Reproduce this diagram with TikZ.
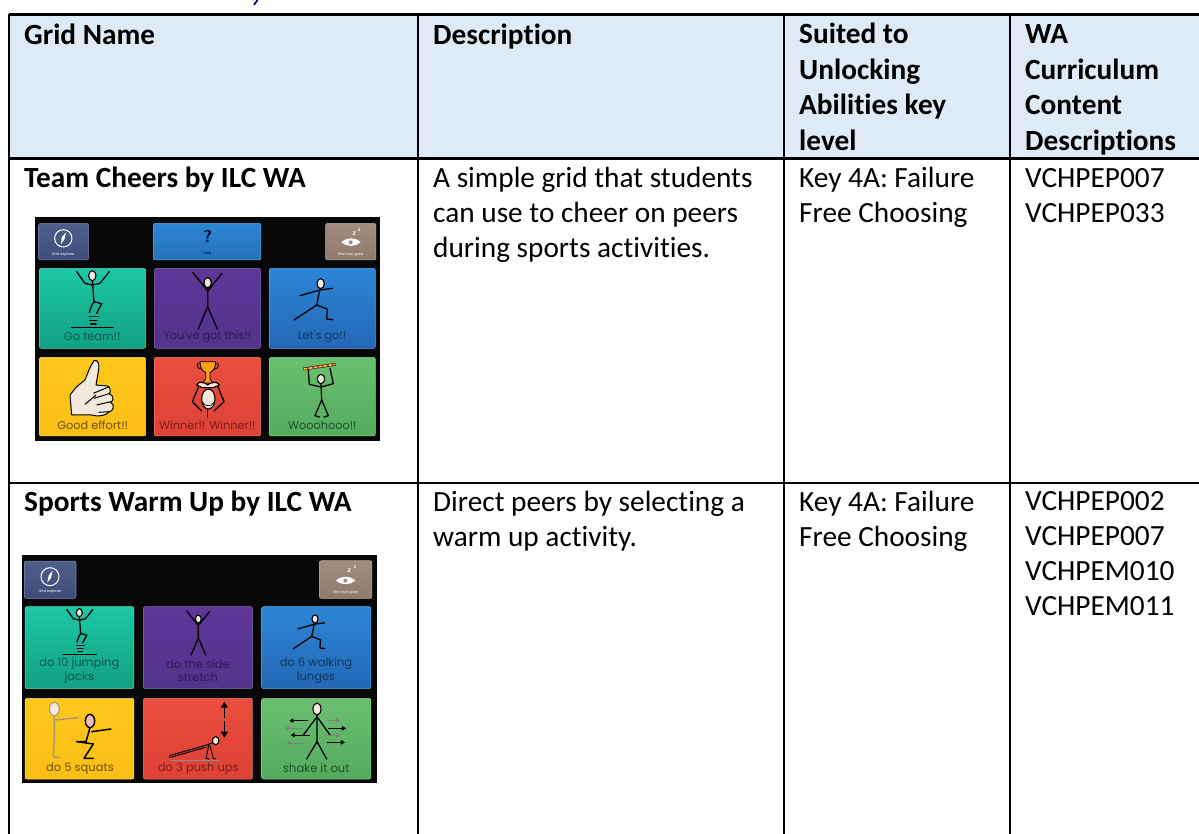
\documentclass[tikz,border=0pt]{standalone}
\usepackage{fontspec}
\setmainfont[Ligatures=NoCommon]{Carlito}
\newfontfamily\tilefont{Poppins}
\usetikzlibrary{arrows.meta}
\definecolor{hdrblue}{HTML}{DEEAF6}
\definecolor{tealA}{HTML}{1CC8A4}\definecolor{tealB}{HTML}{12A083}\definecolor{tealT}{HTML}{0B5A4B}
\definecolor{purpA}{HTML}{5E3799}\definecolor{purpB}{HTML}{52338A}\definecolor{purpT}{HTML}{2C1A55}
\definecolor{bluA}{HTML}{2C85D6}\definecolor{bluB}{HTML}{2468B6}\definecolor{bluT}{HTML}{12385F}
\definecolor{yelA}{HTML}{FFC81C}\definecolor{yelB}{HTML}{FBBE14}\definecolor{yelT}{HTML}{6B5510}
\definecolor{redA}{HTML}{EA4E3E}\definecolor{redB}{HTML}{DE4136}\definecolor{redT}{HTML}{7A1F18}
\definecolor{grnA}{HTML}{6BBF70}\definecolor{grnB}{HTML}{54AB5E}\definecolor{grnT}{HTML}{1F4F26}
\definecolor{navyA}{HTML}{4F5F8C}\definecolor{navyB}{HTML}{3E4C78}
\definecolor{brnA}{HTML}{A08D80}\definecolor{brnB}{HTML}{8F7B6E}
\definecolor{skin}{HTML}{F3E8DC}
\newcommand\tile[7]{\draw[rounded corners=2pt,draw=#5!75!white,line width=.5pt,top color=#5,bottom color=#6] (#1,#2) rectangle (#3,#4);}
\tikzset{
  x=1pt,y=-1pt,
  rule/.style={line width=2.1pt,draw=black},
  celltext/.style={anchor=north west,inner sep=0pt,align=left,font=\fontsize{29.3}{35}\selectfont},
  headtext/.style={celltext,font=\fontsize{29.3}{35}\selectfont\bfseries},
  headstack/.style={celltext,font=\fontsize{29.3}{35.5}\selectfont\bfseries},
  fg/.style={line width=1.3pt,draw=black,line join=round,line cap=round},
  hd/.style={line width=1.1pt,draw=black,fill=skin},
  lab/.style={font=\tilefont\fontsize{11.3}{14}\selectfont,inner sep=0pt},
  lab2/.style={font=\tilefont\fontsize{11.5}{13.3}\selectfont,inner sep=0pt,align=center},
  tiny/.style={font=\tilefont\fontsize{3.6}{4}\selectfont,inner sep=0pt},
  zed/.style={font=\sffamily\bfseries\fontsize{8}{9}\selectfont,inner sep=0pt,white},
}
\newcommand\strutx{\rule[-10.5pt]{0pt}{35pt}}
\newcommand\figjump{%
  \draw[fg] (-47,-12) -- (-22,23) -- (0,28) -- (23,23) -- (51,-12);
  \draw[fg] (0,15) -- (5,78) -- (28,84) -- (13,113);
  \draw[fg] (5,78) -- (-2,90) -- (-9,110);
  \draw[hd] (0,0) ellipse (11 and 15);
  \draw[fg] (-10,123) -- (18,123); \draw[fg] (-8,134) -- (14,134); \draw[fg] (-5,145) -- (11,145);
  \draw[fg,line width=1.4pt] (-62,156) -- (63,156);}
\newcommand\figstretch{%
  \draw[fg] (-45,-31) -- (0,25) -- (43,-28);
  \draw[fg] (0,15) -- (0,72) -- (-28,139);
  \draw[fg] (0,72) -- (29,139);
  \draw[hd] (0,0) ellipse (11 and 15);}
\newcommand\figlunge{%
  \draw[fg] (-62,36) -- (-2,19) -- (35,14);
  \draw[fg] (-2,15) -- (-12,64) -- (-80,109);
  \draw[fg] (-12,64) -- (20,76) -- (18,106) -- (35,108);
  \draw[hd] (0,0) ellipse (11 and 15);}
\begin{document}
\begin{tikzpicture}
\useasboundingbox (0,0) rectangle (1199,834);
\fill[white] (0,0) rectangle (1199,834);
% table geometry
\coordinate (tl) at (9,14.5);
\coordinate (tr) at (1199,14.5);
\coordinate (hl) at (9,158.5);
\coordinate (hr) at (1199,158.5);
\coordinate (ml) at (9,482.7);
\coordinate (mr) at (1199,482.7);
\coordinate (bl) at (9,834);
\coordinate (c1t) at (418.2,14.5);
\coordinate (c1b) at (418.2,834);
\coordinate (c2t) at (784.2,14.5);
\coordinate (c2b) at (784.2,834);
\coordinate (c3t) at (1010,14.5);
\coordinate (c3b) at (1010,834);
\fill[hdrblue] (tl) rectangle (hr);
% clipped descender of the heading above the table
\draw[draw=black!40!blue!70!black,line width=1.6pt] (257.5,0) -- (254,5);
% first picture
\fill[black!97] (35,217.3) rectangle (380,441);
\begin{scope}[shift={(20,205)},scale=1/3]
\tile{56}{55}{206}{165}{navyA}{navyB}{}
\tile{400}{55}{723}{165}{bluA}{bluA!85!black}{}
\tile{917}{55}{1068}{165}{brnA}{brnB}{}
\tile{58}{190}{377}{430}{tealA}{tealB}{}
\tile{403}{190}{722}{430}{purpA}{purpB}{}
\tile{748}{190}{1066}{430}{bluA}{bluB}{}
\tile{58}{457}{377}{693}{yelA}{yelB}{}
\tile{403}{457}{722}{693}{redA}{redB}{}
\tile{748}{457}{1066}{693}{grnA}{grnB}{}
% top buttons
\draw[white,line width=1pt] (130,100) circle (26);
\fill[white] (138,82) -- (133,104) -- (122,118) -- (126,96) -- cycle;
\node[tiny,white] (a1) at (130,148) {Grid explorer};
\node[font=\fontsize{17}{18}\selectfont\bfseries\sffamily,inner sep=0pt,text=black!85!blue] (a2) at (563,96) {?};
\node[tiny,text=black!75!blue] (a3) at (562,146) {Help};
\node[tiny,white] (a4) at (992,148) {Rest eye gaze};
\fill[white] (964,112) .. controls (980,96) and (1005,96) .. (1022,112) .. controls (1005,126) and (980,126) .. (964,112) -- cycle;
\fill[brnA] (992,112) circle (6);
\node[zed] (a5) at (1003,87) {z};
\node[zed,font=\sffamily\bfseries\fontsize{6}{7}\selectfont] (a6) at (1018,74) {z};
% go team
\begin{scope}[shift={(217,212)}]\figjump\end{scope}
\node[lab,text=tealT] (a7) at (217,396) {Go team!!};
\begin{scope}[shift={(563,233)}]\figstretch\end{scope}
\node[lab,text=purpT] (a8) at (562,396) {You've got this!!};
\begin{scope}[shift={(902,236)}]\figlunge\end{scope}
\node[lab,text=bluT] (a9) at (906,396) {Let's go!!};
% thumb
\draw[fill=skin,line width=1pt,line join=round] (150,570) -- (170,545) -- (195,525) .. controls (205,500) and (212,480) .. (222,467) .. controls (235,462) and (240,480) .. (235,500) -- (228,540) -- (262,543) .. controls (272,545) and (272,560) .. (268,566) .. controls (282,572) and (282,588) .. (272,592) .. controls (285,600) and (282,618) .. (265,622) .. controls (258,632) and (235,636) .. (215,630) -- (155,630) -- cycle;
\draw[line width=1pt] (220,565) -- (268,545) (222,580) -- (270,565) (230,600) -- (272,590) (236,622) -- (268,620) (195,598) -- (228,570);
\node[lab,text=yelT] (a10) at (218,662) {Good effort!!};
% trophy winner
\draw[fg] (540,535) -- (517,590) -- (545,618);
\draw[fg] (590,535) -- (612,590) -- (582,618);
\draw[hd] (530,540) .. controls (535,528) and (555,530) .. (563,540) .. controls (572,530) and (592,528) .. (598,540) -- (580,548) -- (548,548) -- cycle;
\draw[hd] (565,582) ellipse (20 and 30);
\draw[fg,line width=.7pt] (548,592) .. controls (555,606) and (575,606) .. (582,592);
\draw[fg] (563,612) -- (563,636);
\draw[fill=yelB!85!red,line width=.8pt] (540,470) -- (587,470) .. controls (587,490) and (578,500) .. (570,502) -- (570,522) -- (578,534) -- (549,534) -- (557,522) -- (557,502) .. controls (548,500) and (540,490) .. (540,470) -- cycle;
\draw[line width=.8pt] (540,476) .. controls (525,470) and (530,492) .. (547,494);
\draw[line width=.8pt] (587,476) .. controls (602,470) and (597,492) .. (580,494);
\node[lab,text=redT] (a11) at (562,662) {Winner!! Winner!!};
% scarf
\draw[fg] (865,495) -- (868,538) -- (903,546) -- (940,536) -- (930,490);
\draw[fg] (903,535) -- (905,585) -- (885,632) -- (898,636);
\draw[fg] (905,585) -- (925,632) -- (912,636);
\draw[hd] (903,522) ellipse (11 and 14);
\draw[line width=3pt,draw=black!80] (850,492) -- (948,478);
\draw[line width=1.6pt,draw=yelA,dash pattern=on 3pt off 2pt] (852,492) -- (946,478);
\draw[line width=1.6pt,draw=redB,dash pattern=on 2pt off 3pt,dash phase=2pt] (852,492) -- (946,478);
\node[lab,text=grnT] (a12) at (907,662) {Wooohooo!!};
\end{scope}
% second picture
\fill[black!97] (22,555) rectangle (376.7,782.7);
\begin{scope}[shift={(10,545)},scale=1/3]
\tile{43}{48}{198}{160}{navyA}{navyB}{}
\tile{928}{47}{1086}{160}{brnA}{brnB}{}
\tile{45}{185}{372}{431}{tealA}{tealB}{}
\tile{400}{185}{728}{431}{purpA}{purpB}{}
\tile{755}{185}{1083}{431}{bluA}{bluB}{}
\tile{45}{460}{372}{702}{yelA}{yelB}{}
\tile{400}{460}{728}{702}{redA}{redB}{}
\tile{755}{460}{1083}{702}{grnA}{grnB}{}
\draw[white,line width=1pt] (120,95) circle (27);
\fill[white] (128,77) -- (123,99) -- (112,113) -- (116,91) -- cycle;
\node[tiny,white] (b1) at (120,141) {Grid explorer};
\node[tiny,white] (b2) at (1007,142) {Rest eye gaze};
\fill[white] (978,107) .. controls (994,91) and (1019,91) .. (1036,107) .. controls (1019,121) and (994,121) .. (978,107) -- cycle;
\fill[brnA] (1006,107) circle (6);
\node[zed] (b3) at (1018,78) {z};
\node[zed,font=\sffamily\bfseries\fontsize{6}{7}\selectfont] (b4) at (1035,67) {z};
\begin{scope}[shift={(208,203)},scale=.8]\figjump\end{scope}
\node[lab2,text=tealT] (b5) at (208,377) {do 10 jumping\\jacks};
\begin{scope}[shift={(565,222)},scale=.78]\figstretch\end{scope}
\node[lab2,text=purpT] (b6) at (564,377) {do the side\\stretch};
\begin{scope}[shift={(915,222)},scale=.82]\figlunge\end{scope}
\node[lab2,text=bluT] (b7) at (918,377) {do 6 walking\\lunges};
% squats
\draw[fg,draw=yelT!60!white,line width=1.4pt] (135,525) -- (205,518);
\draw[fg,draw=yelT!60!white,line width=1.4pt] (133,510) -- (133,575) -- (130,636) -- (148,637);
\draw[hd,draw=yelT!60!white] (133,492) ellipse (15 and 20);
\draw[fg,line width=1.5pt] (245,560) -- (303,552);
\draw[fg,line width=1.5pt] (240,548) -- (228,590) -- (200,590) -- (250,597) -- (222,640) -- (250,640);
\draw[hd,line width=1.4pt,fill=skin!80!red] (240,528) ellipse (14 and 20);
\node[lab2,text=yelT] (b8) at (210,671) {do 5 squats};
% push up
\draw[line width=.8pt,draw=black!45] (480,645) -- (630,645);
\draw[fg,line width=1pt] (478,632) -- (590,600) -- (612,592);
\draw[fg,line width=1pt] (478,638) -- (590,606);
\draw[fg,line width=.9pt] (596,602) -- (588,640) -- (598,642);
\draw[fg,line width=.9pt] (600,602) -- (610,640) -- (618,642);
\draw[hd] (617,587) ellipse (10 and 12);
\draw[-{Triangle[width=7pt,length=6pt]},line width=1.6pt] (643,520) -- (643,470);
\draw[-{Triangle[width=7pt,length=6pt]},line width=1.6pt] (643,528) -- (643,578);
\node[lab2,text=redT] (b9) at (565,671) {do 3 push ups};
% shake
\draw[fg] (921,510) -- (921,590) -- (890,642);
\draw[fg] (921,590) -- (950,642);
\draw[fg] (921,515) -- (880,570);
\draw[fg] (921,515) -- (960,570);
\draw[hd] (921,492) ellipse (12 and 18);
\foreach \xa/\ya/\xb in {895/527/838,900/570/842,955/550/1008,950/592/1005}
  \draw[-{Triangle[width=4.5pt,length=4pt]},line width=1pt] (\xa,\ya) -- (\xb,\ya);
\foreach \xa/\ya/\xb in {880/550/825,885/594/830,950/527/990,945/572/990}
  \draw[-{Triangle[width=4.5pt,length=4pt]},line width=1pt,draw=black!50,fill=black!50] (\xa,\ya) -- (\xb,\ya);
\node[lab2,text=grnT] (b10) at (919,671) {shake it out};
\end{scope}
% grid lines
\draw[rule] (tl) -- (tr);
\draw[rule] (hl) -- (hr);
\draw[rule] (ml) -- (mr);
\draw[rule] (tl) -- (bl);
\draw[rule] (c1t) -- (c1b);
\draw[rule] (c2t) -- (c2b);
\draw[rule] (c3t) -- (c3b);
% text
\node[headtext] (h1) at (24,19.5) {\strutx Grid Name};
\node[headtext] (h2) at (433,19.5) {\strutx Description};
\node[headstack] (h3) at (799,19) {\strutx Suited to\\\strutx Unlocking\\\strutx Abilities key\\\strutx level};
\node[headstack] (h4) at (1025,19) {\strutx WA\\\strutx Curriculum\\\strutx Content\\\strutx Descriptions};
\node[headtext] (r1a) at (24,162.5) {\strutx Team Cheers by ILC WA};
\node[celltext] (r1b) at (433,162.5) {\strutx A simple grid that students\\\strutx can use to cheer on peers\\\strutx during sports activities.};
\node[celltext] (r1c) at (799,162.5) {\strutx Key 4A: Failure\\\strutx Free Choosing};
\node[celltext] (r1d) at (1025,162.5) {\strutx VCHPEP007\\\strutx VCHPEP033};
\node[headtext] (r2a) at (24,486.5) {\strutx Sports Warm Up by ILC WA};
\node[celltext] (r2b) at (433,486.5) {\strutx Direct peers by selecting a\\\strutx warm up activity.};
\node[celltext] (r2c) at (799,486.5) {\strutx Key 4A: Failure\\\strutx Free Choosing};
\node[celltext] (r2d) at (1025,486) {\strutx VCHPEP002\\\strutx VCHPEP007\\\strutx VCHPEM010\\\strutx VCHPEM011};
\end{tikzpicture}
\end{document}
